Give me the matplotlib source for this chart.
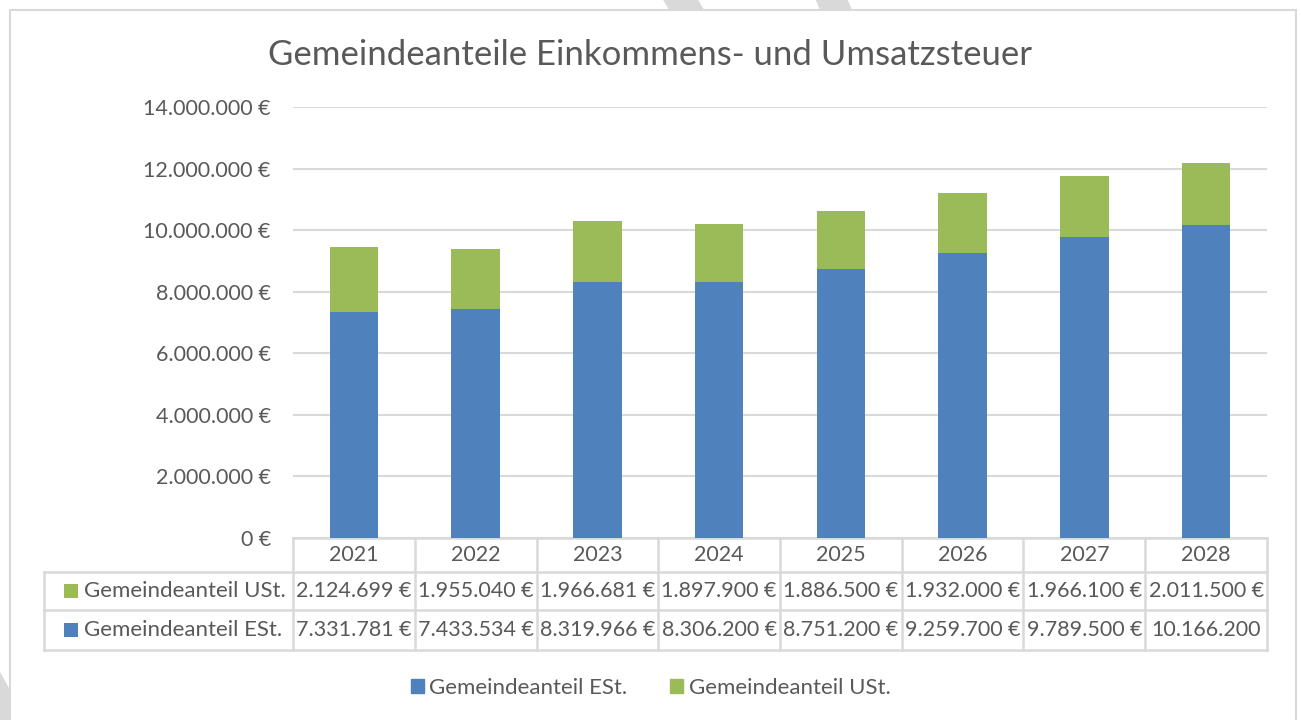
import matplotlib
matplotlib.use('Agg')
from matplotlib import pyplot as plt
from matplotlib import transforms
from matplotlib.patches import Rectangle, Polygon
from matplotlib.lines import Line2D

years = ['2021', '2022', '2023', '2024', '2025', '2026', '2027', '2028']
est = [7331781, 7433534, 8319966, 8306200, 8751200, 9259700, 9789500, 10166200]
ust = [2124699, 1955040, 1966681, 1897900, 1886500, 1932000, 1966100, 2011500]
label_est = 'Gemeindeanteil ESt.'
label_ust = 'Gemeindeanteil USt.'
title = 'Gemeindeanteile Einkommens- und Umsatzsteuer'

blue = '#4f81bd'
green = '#9bbb59'
text_c = '#595959'
line_c = '#d9d9d9'

plt.rcParams['font.family'] = ['Lato', 'DejaVu Sans']

W, H = 1301, 720


def fx(px):
    return px / W


def fy(py):
    return 1 - py / H


def euro(v, cell=False):
    s = '{:,}'.format(v).replace(',', '.')
    # in the table Excel cuts the currency sign when the cell is too narrow
    if cell and v >= 10000000:
        return s
    return s + ' €'


fig = plt.figure(figsize=(W / 100, H / 100), dpi=100)

# faint grey shapes outside the chart frame
for pts in ([(662, -2), (697, -2), (710, 20), (675, 20)],
            [(815, -2), (847, -2), (856, 20), (824, 20)],
            [(-2, 668), (10, 690), (10, 722), (-2, 722)]):
    fig.patches.append(Polygon([(fx(x), fy(y)) for x, y in pts], closed=True,
                               transform=fig.transFigure, color='#d9d9d9',
                               lw=0, zorder=0))

# chart frame
fig.patches.append(Rectangle((fx(10), fy(740)), fx(1296) - fx(10), (740 - 10) / H,
                             transform=fig.transFigure, facecolor='white',
                             edgecolor=line_c, lw=1.5, zorder=1))

fig.text(0.5, fy(55), title, ha='center', va='center', fontsize=25, color=text_c)

ax = fig.add_axes([fx(293), fy(538), fx(1267) - fx(293), (538 - 107) / H])
ax.set_zorder(2)
ax.set_facecolor('none')
x = list(range(len(years)))
ax.bar(x, est, width=0.4, color=blue, zorder=3)
ax.bar(x, ust, width=0.4, bottom=est, color=green, zorder=3)
ax.set_xlim(-0.5, len(years) - 0.5)
ax.set_ylim(0, 14000000)
ax.set_yticks(range(0, 14000001, 2000000))
ax.set_yticklabels([euro(v) for v in range(0, 14000001, 2000000)])
ax.tick_params(axis='y', length=0, pad=16, labelsize=15.5, labelcolor=text_c)
ax.set_xticks([])
ax.grid(axis='y', color=line_c, lw=1.5, zorder=0)
for s in ax.spines.values():
    s.set_visible(False)

# data table below the plot
tr = transforms.blended_transform_factory(ax.transData, fig.transFigure)
tf = fig.transFigure
rows_y = [538, 572, 610, 650]
n = len(years)


def hline(x0, x1, y, trans):
    fig.add_artist(Line2D([x0, x1], [fy(y), fy(y)], transform=trans,
                          color=line_c, lw=1.8))


hline(-0.5, n - 0.5, rows_y[0], tr)
for y in rows_y[1:]:
    hline(-0.5, n - 0.5, y, tr)
    fig.add_artist(Line2D([fx(44), fx(293)], [fy(y), fy(y)], transform=tf,
                          color=line_c, lw=1.8))
for i in range(n + 1):
    fig.add_artist(Line2D([i - 0.5, i - 0.5], [fy(rows_y[0]), fy(rows_y[3])],
                          transform=tr, color=line_c, lw=1.8))
fig.add_artist(Line2D([fx(44), fx(44)], [fy(rows_y[1]), fy(rows_y[3])],
                      transform=tf, color=line_c, lw=1.8))

for i, yr in enumerate(years):
    fig.text(i, fy((rows_y[0] + rows_y[1]) / 2), yr, transform=tr,
             ha='center', va='center', fontsize=15.5, color=text_c)
    fig.text(i, fy((rows_y[1] + rows_y[2]) / 2), euro(ust[i], True), transform=tr,
             ha='center', va='center', fontsize=15.5, color=text_c)
    fig.text(i, fy((rows_y[2] + rows_y[3]) / 2), euro(est[i], True), transform=tr,
             ha='center', va='center', fontsize=15.5, color=text_c)

for (r0, r1), lab, col in (((572, 610), label_ust, green), ((610, 650), label_est, blue)):
    yc = (r0 + r1) / 2
    fig.patches.append(Rectangle((fx(64), fy(yc + 7)), fx(14), 14 / H,
                                 transform=tf, color=col, lw=0, zorder=3))
    fig.text(fx(84), fy(yc), lab, ha='left', va='center', fontsize=16, color=text_c)

handles = [Rectangle((0, 0), 1, 1, color=blue), Rectangle((0, 0), 1, 1, color=green)]
fig.legend(handles, [label_est, label_ust], loc='center', bbox_to_anchor=(0.5, fy(688)),
           ncol=2, frameon=False, fontsize=16, labelcolor=text_c,
           handlelength=0.6, handleheight=0.6, handletextpad=0.25, columnspacing=1.9)

fig.savefig('out.png', dpi=100, facecolor='white')
